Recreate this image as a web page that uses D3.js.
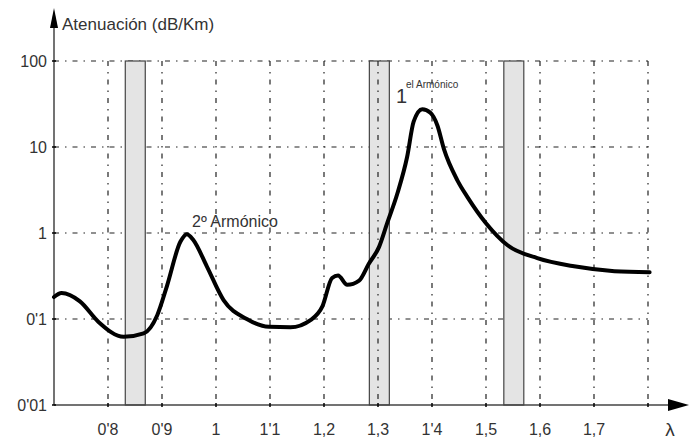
<!DOCTYPE html>
<html>
<head>
<meta charset="utf-8">
<script src="https://cdn.jsdelivr.net/npm/d3@7"></script>
<style>
  body { margin: 0; background: #fff; }
  svg { display: block; }
  text { font-family: "Liberation Sans", Arial, sans-serif; fill: #333; }
</style>
</head>
<body>
<script>
// datos
const lambda = [0.70, 0.714, 0.748, 0.782, 0.829, 0.866, 0.891, 0.909, 0.934, 0.946, 0.958, 0.983, 1.014, 1.057,
  1.098, 1.138, 1.175, 1.197, 1.215, 1.226, 1.243, 1.265, 1.283, 1.302, 1.317, 1.336, 1.354, 1.366, 1.382,
  1.397, 1.41, 1.422, 1.447, 1.466, 1.50, 1.54, 1.595, 1.663, 1.738, 1.803];
const atenuacion = [0.18, 0.20, 0.16, 0.093, 0.062, 0.068, 0.11, 0.24, 0.79, 0.97, 0.83, 0.41, 0.166, 0.10,
  0.081, 0.080, 0.097, 0.14, 0.30, 0.32, 0.25, 0.28, 0.44, 0.69, 1.3, 2.9, 7.7, 19.7, 27.5,
  25, 17.8, 9.5, 4.1, 2.6, 1.3, 0.72, 0.51, 0.41, 0.36, 0.35];

const xTicks = [0.8, 0.9, 1.0, 1.1, 1.2, 1.3, 1.4, 1.5, 1.6, 1.7];
const xTickLabels = ["0'8", "0'9", "1", "1'1", "1,2", "1,3", "1'4", "1,5", "1,6", "1,7"];
const xGrid = [0.8, 0.9, 1.0, 1.1, 1.2, 1.3, 1.4, 1.5, 1.6, 1.7, 1.8];
const yTicks = [0.01, 0.1, 1, 10, 100];
const yTickLabels = ["0'01", "0'1", "1", "10", "100"];
// ventanas de transmisión
const ventanas = [[0.832, 0.869], [1.284, 1.321], [1.533, 1.570]];

const width = 689, height = 442;

const svg = d3.select("body").append("svg")
    .attr("width", width)
    .attr("height", height);

const x = d3.scaleLinear().domain([0.7, 1.8]).range([54, 648]);
const y = d3.scaleLog().domain([0.01, 100]).range([405, 61]);

const gridDash = "5,6,1.5,6";

// rejilla horizontal
svg.append("g").selectAll("line")
    .data(yTicks.slice(1))
    .enter().append("line")
    .attr("x1", x(0.7)).attr("x2", x(1.8))
    .attr("y1", d => y(d)).attr("y2", d => y(d))
    .attr("stroke", "#222").attr("stroke-width", 1.2)
    .attr("stroke-dasharray", gridDash);

// rejilla vertical
const vGrid = svg.append("g");
function rejillaVertical() {
  vGrid.selectAll("line")
    .data(xGrid)
    .enter().append("line")
    .attr("x1", d => x(d)).attr("x2", d => x(d))
    .attr("y1", y(100)).attr("y2", y(0.01))
    .attr("stroke", "#222").attr("stroke-width", 1.2)
    .attr("stroke-dasharray", gridDash);
}
rejillaVertical();

// bandas grises
svg.append("g").selectAll("rect")
    .data(ventanas)
    .enter().append("rect")
    .attr("x", d => x(d[0]))
    .attr("width", d => x(d[1]) - x(d[0]))
    .attr("y", y(100))
    .attr("height", y(0.01) - y(100))
    .attr("fill", "#e4e4e4")
    .attr("stroke", "#444")
    .attr("stroke-width", 1.2);

// línea punteada dentro de la banda 1.3
svg.append("line")
    .attr("x1", x(1.3)).attr("x2", x(1.3))
    .attr("y1", y(100)).attr("y2", y(0.01))
    .attr("stroke", "#222").attr("stroke-width", 1.2)
    .attr("stroke-dasharray", gridDash);

// ejes
svg.append("line")
    .attr("x1", x(0.7)).attr("x2", 672)
    .attr("y1", y(0.01)).attr("y2", y(0.01))
    .attr("stroke", "#444").attr("stroke-width", 1.5);
svg.append("path")
    .attr("d", `M689,${y(0.01)} L668,${y(0.01) - 6} L668,${y(0.01) + 6} Z`)
    .attr("fill", "#000");

svg.append("line")
    .attr("x1", x(0.7)).attr("x2", x(0.7))
    .attr("y1", y(0.01)).attr("y2", 26)
    .attr("stroke", "#444").attr("stroke-width", 1.5);
svg.append("path")
    .attr("d", `M${x(0.7)},8 L${x(0.7) - 4},28 L${x(0.7) + 4},28 Z`)
    .attr("fill", "#000");

// marcas y etiquetas eje x
svg.append("g").selectAll("line")
    .data(xGrid)
    .enter().append("line")
    .attr("x1", d => x(d)).attr("x2", d => x(d))
    .attr("y1", y(0.01) - 2).attr("y2", y(0.01) + 2)
    .attr("stroke", "#000").attr("stroke-width", 1.5);
svg.append("g").selectAll("text")
    .data(xTicks)
    .enter().append("text")
    .attr("x", d => x(d))
    .attr("y", 435)
    .attr("text-anchor", "middle")
    .attr("font-size", "16px")
    .text((d, i) => xTickLabels[i]);

// marcas y etiquetas eje y
svg.append("g").selectAll("line")
    .data(yTicks)
    .enter().append("line")
    .attr("x1", x(0.7) - 2).attr("x2", x(0.7) + 2)
    .attr("y1", d => y(d)).attr("y2", d => y(d))
    .attr("stroke", "#000").attr("stroke-width", 1.5);
svg.append("g").selectAll("text")
    .data(yTicks)
    .enter().append("text")
    .attr("x", 47)
    .attr("y", d => y(d) + 6)
    .attr("text-anchor", "end")
    .attr("font-size", "16px")
    .text((d, i) => yTickLabels[i]);

// curva de atenuación
const datos = lambda.map((l, i) => ({ l: l, a: atenuacion[i] }));
svg.append("path")
    .datum(datos)
    .attr("fill", "none")
    .attr("stroke", "#000")
    .attr("stroke-width", 4)
    .attr("stroke-linejoin", "round")
    .attr("stroke-linecap", "round")
    .attr("d", d3.line().x(d => x(d.l)).y(d => y(d.a)).curve(d3.curveMonotoneX));

// textos
svg.append("text")
    .attr("x", 62).attr("y", 30)
    .attr("font-size", "17px")
    .text("Atenuación  (dB/Km)");

svg.append("text")
    .attr("x", 192).attr("y", 227)
    .attr("font-size", "16px")
    .text("2º Armónico");

svg.append("text")
    .attr("x", 396).attr("y", 103)
    .attr("font-size", "20px")
    .text("1");
svg.append("text")
    .attr("x", 406).attr("y", 88)
    .attr("font-size", "10px")
    .text("el Armónico");

svg.append("text")
    .attr("x", 670).attr("y", 436)
    .attr("text-anchor", "middle")
    .attr("font-size", "19px")
    .text("λ");
</script>
</body>
</html>
